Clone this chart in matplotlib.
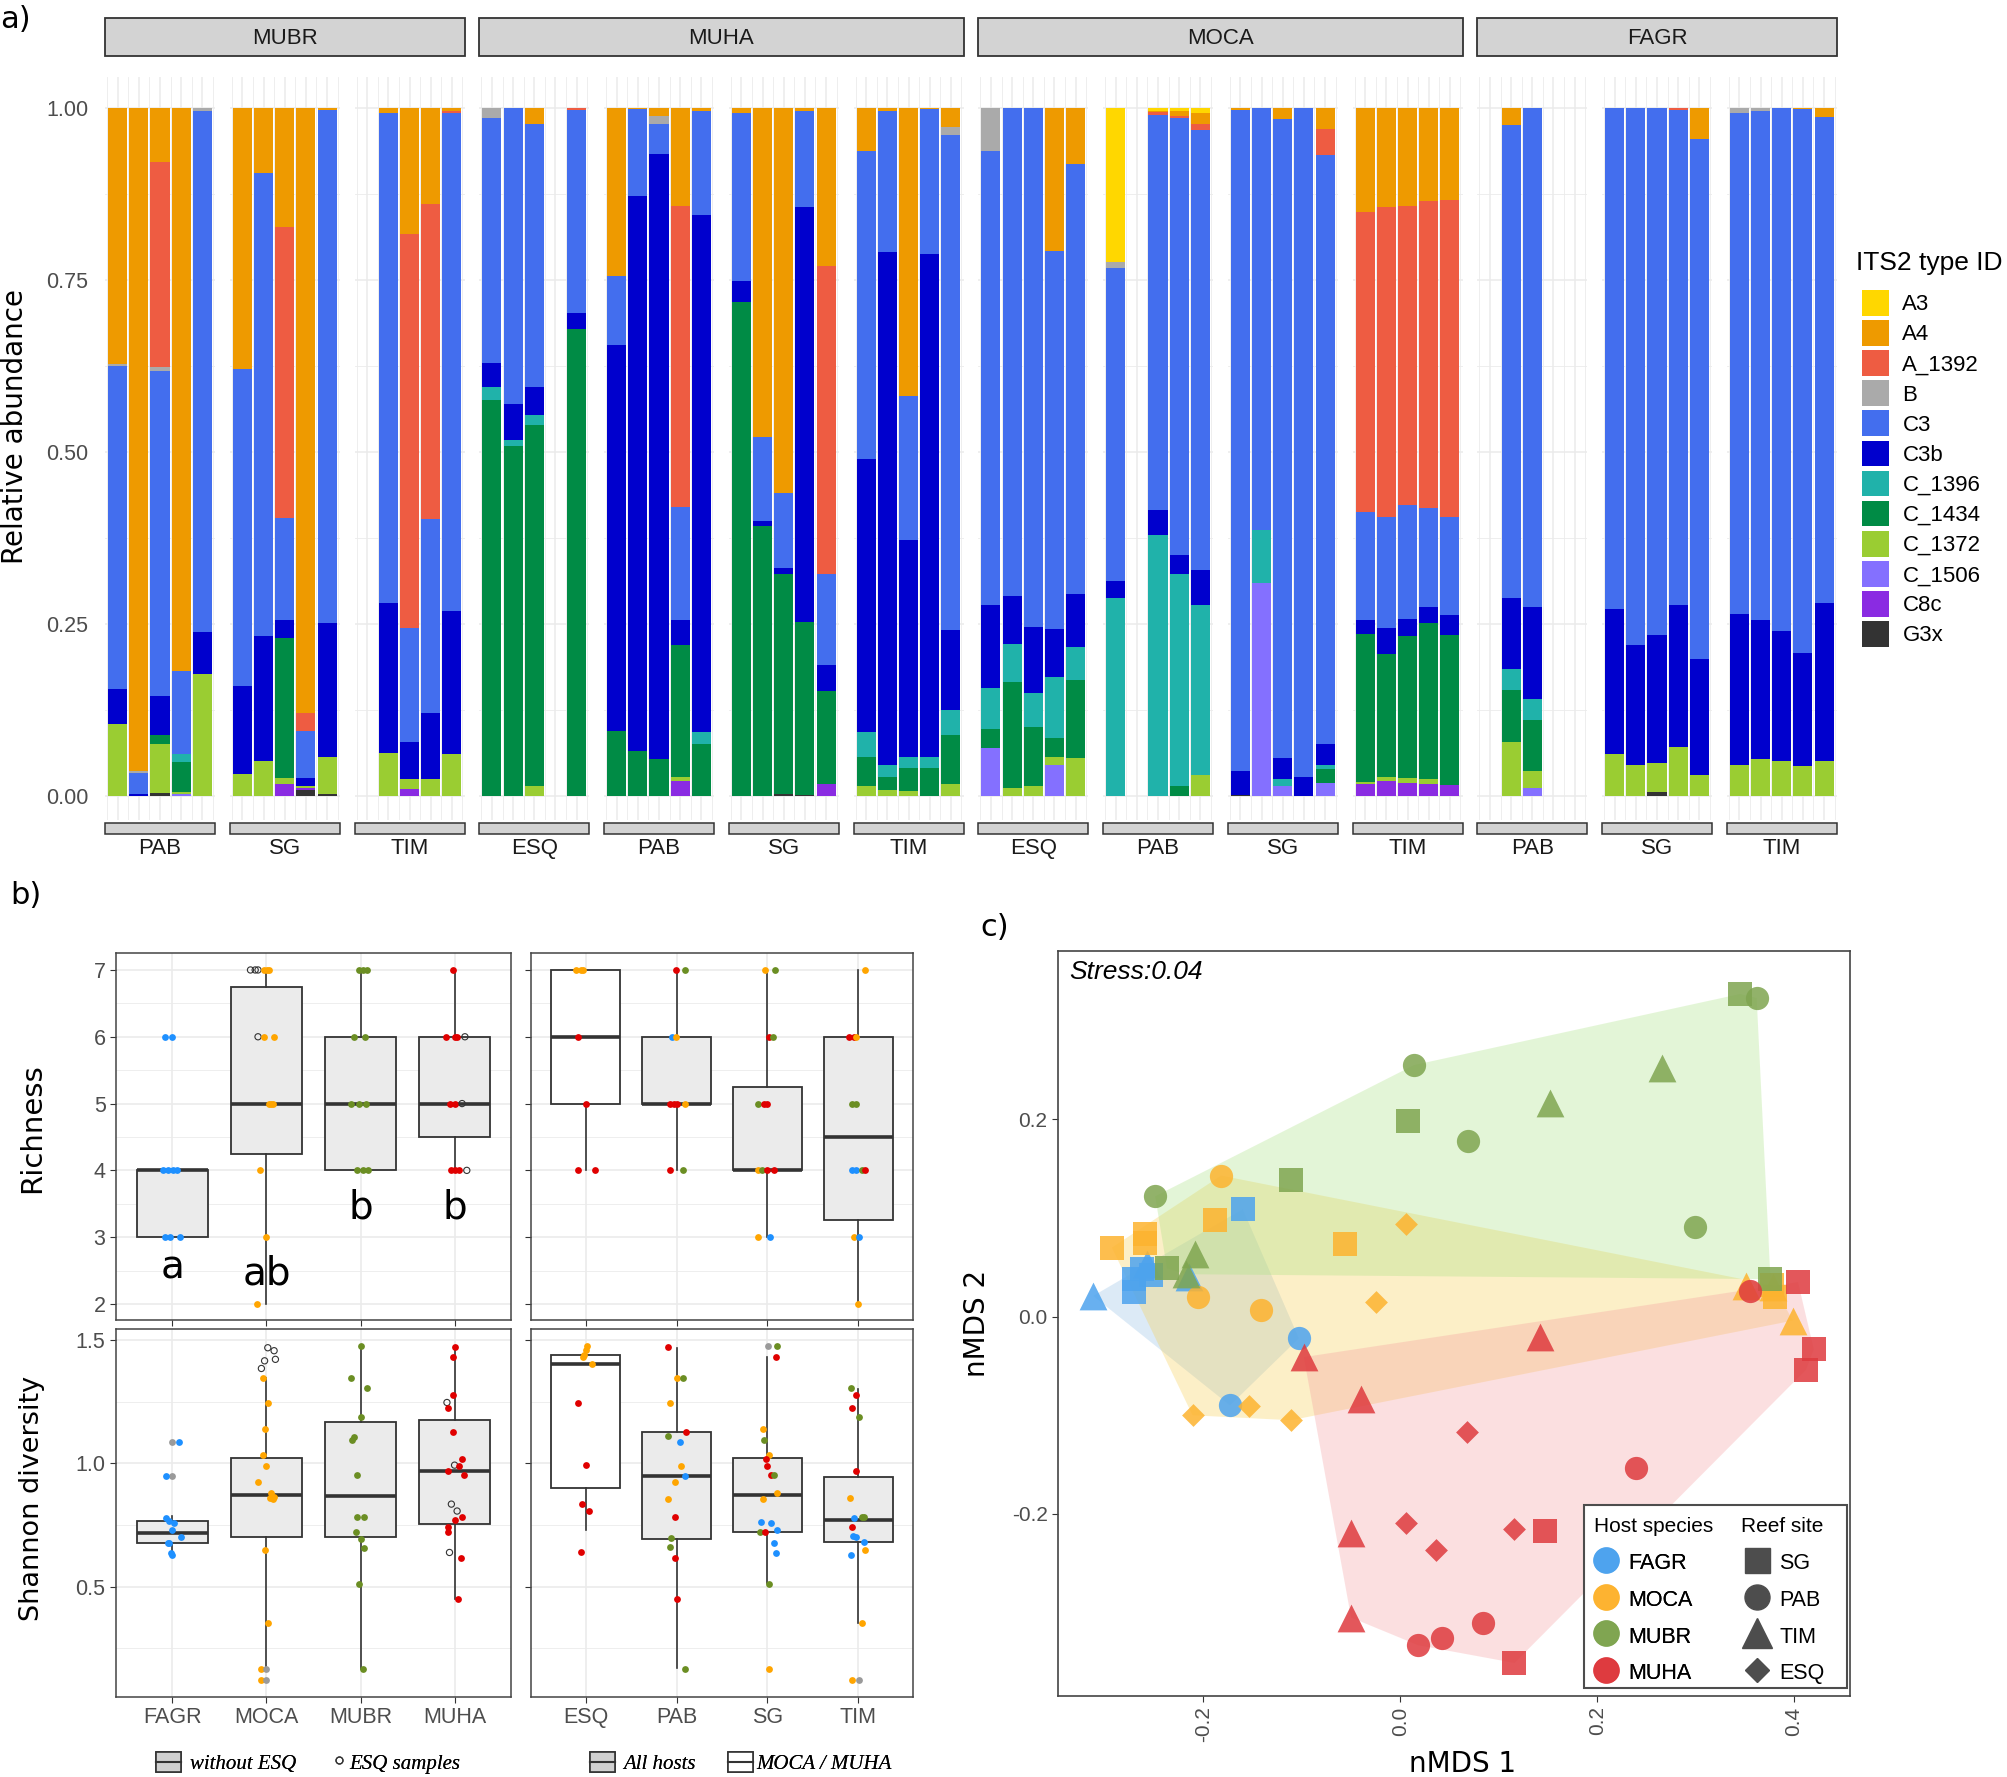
"""Symbiodiniaceae ITS2 profiles, diversity boxplots and nMDS ordination."""

import matplotlib

matplotlib.use("Agg")
import matplotlib.pyplot as plt
import numpy as np
from matplotlib.legend_handler import HandlerBase
from matplotlib.lines import Line2D
from matplotlib.patches import Patch, Rectangle

plt.rcParams["font.family"] = ["Liberation Sans", "DejaVu Sans"]

W, H = 2007, 1777  # размер рисунка в пикселях

# ---------------------------------------------------------------- a) data
its2_types = ["A3", "A4", "A_1392", "B", "C3", "C3b", "C_1396", "C_1434",
              "C_1372", "C_1506", "C8c", "G3x"]
its2_colors = ["#FFD700", "#EE9A00", "#EE5C42", "#AAAAAA", "#436EEE", "#0000CD",
               "#20B2AA", "#008B45", "#9ACD32", "#8470FF", "#8A2BE2", "#333333"]

hosts_a = ["MUBR", "MUHA", "MOCA", "FAGR"]
sites_a = [["PAB", "SG", "TIM"], ["ESQ", "PAB", "SG", "TIM"],
           ["ESQ", "PAB", "SG", "TIM"], ["PAB", "SG", "TIM"]]

# five replicate slots per reef site, None = missing sample
mubr_pab = [
    {"A4": .373, "B": .003, "C3": .47, "C3b": .051, "C_1372": .104},
    {"A4": .964, "B": .003, "C3": .03, "C3b": .003},
    {"A4": .079, "A_1392": .298, "B": .005, "C3": .473, "C3b": .057, "C_1434": .013, "C_1372": .071, "G3x": .004},
    {"A4": .819, "C3": .12, "C_1396": .012, "C_1434": .044, "C_1372": .002, "C_1506": .003},
    {"B": .004, "C3": .758, "C3b": .062, "C_1372": .177},
]
mubr_sg = [
    {"A4": .38, "C3": .46, "C3b": .128, "C_1372": .032},
    {"A4": .095, "C3": .672, "C3b": .182, "C_1372": .051},
    {"A4": .173, "A_1392": .423, "C3": .149, "C3b": .026, "C_1434": .203, "C_1372": .008, "C8c": .018},
    {"A4": .88, "A_1392": .026, "C3": .068, "C3b": .012, "C_1372": .003, "C8c": .003, "G3x": .008},
    {"A4": .003, "C3": .745, "C3b": .196, "C_1372": .053, "G3x": .003},
]
mubr_tim = [
    None,
    {"A4": .007, "C3": .712, "C3b": .219, "C_1372": .062},
    {"A4": .183, "A_1392": .573, "C3": .166, "C3b": .054, "C_1372": .014, "C8c": .010},
    {"A4": .14, "A_1392": .457, "C3": .283, "C3b": .096, "C_1372": .024},
    {"A4": .005, "A_1392": .002, "C3": .724, "C3b": .208, "C_1372": .061},
]
muha_esq = [
    {"B": .014, "C3": .357, "C3b": .035, "C_1396": .019, "C_1434": .575},
    {"C3": .431, "C3b": .052, "C_1396": .009, "C_1434": .508},
    {"A4": .023, "C3": .383, "C3b": .040, "C_1396": .015, "C_1434": .524, "C_1372": .015},
    None,
    {"A_1392": .003, "C3": .295, "C3b": .023, "C_1434": .679},
]
muha_pab = [
    {"A4": .244, "C3": .100, "C3b": .562, "C_1434": .094},
    {"A4": .002, "C3": .126, "C3b": .807, "C_1434": .065},
    {"A4": .012, "B": .011, "C3": .044, "C3b": .880, "C_1434": .053},
    {"A4": .142, "A_1392": .438, "C3": .165, "C3b": .036, "C_1434": .192, "C_1372": .006, "C8c": .021},
    {"A4": .005, "C3": .151, "C3b": .751, "C_1396": .017, "C_1434": .076},
]
muha_sg = [
    {"A4": .008, "C3": .244, "C3b": .030, "C_1434": .718},
    {"A4": .478, "C3": .122, "C3b": .008, "C_1434": .392},
    {"A4": .560, "C3": .108, "C3b": .009, "C_1434": .320, "G3x": .003},
    {"A4": .004, "C3": .140, "C3b": .603, "C_1434": .251, "G3x": .002},
    {"A4": .229, "A_1392": .448, "C3": .133, "C3b": .037, "C_1434": .136, "C8c": .017},
]
muha_tim = [
    {"A4": .062, "C3": .448, "C3b": .397, "C_1396": .037, "C_1434": .041, "C_1372": .015},
    {"A4": .004, "C3": .205, "C3b": .746, "C_1396": .017, "C_1434": .020, "C_1372": .008},
    {"A4": .418, "C3": .210, "C3b": .316, "C_1396": .016, "C_1434": .033, "C_1372": .007},
    {"A4": .002, "C3": .210, "C3b": .731, "C_1396": .017, "C_1434": .040},
    {"A4": .028, "B": .011, "C3": .720, "C3b": .116, "C_1396": .037, "C_1434": .071, "C_1372": .017},
]
moca_esq = [
    {"B": .063, "C3": .660, "C3b": .120, "C_1396": .060, "C_1434": .028, "C_1506": .069},
    {"C3": .710, "C3b": .069, "C_1396": .056, "C_1434": .154, "C_1372": .011},
    {"C3": .754, "C3b": .097, "C_1396": .049, "C_1434": .086, "C_1372": .014},
    {"A4": .208, "C3": .550, "C3b": .069, "C_1396": .089, "C_1434": .028, "C_1372": .011, "C_1506": .045},
    {"A4": .082, "C3": .625, "C3b": .076, "C_1396": .049, "C_1434": .113, "C_1372": .055},
]
moca_pab = [
    {"A3": .224, "B": .009, "C3": .455, "C3b": .024, "C_1396": .288},
    None,
    {"A3": .004, "A4": .002, "A_1392": .004, "C3": .575, "C3b": .036, "C_1396": .379},
    {"A3": .004, "A4": .007, "A_1392": .004, "C3": .635, "C3b": .027, "C_1396": .309, "C_1434": .014},
    {"A3": .008, "A4": .016, "A_1392": .008, "C3": .640, "C3b": .051, "C_1396": .247, "C_1372": .030},
]
moca_sg = [
    {"A4": .003, "C3": .961, "C3b": .034, "G3x": .002},
    {"C3": .614, "C_1396": .077, "C_1506": .309},
    {"A4": .016, "C3": .929, "C3b": .031, "C_1396": .009, "C_1506": .015},
    {"C3": .973, "C3b": .027},
    {"A4": .030, "A_1392": .039, "C3": .856, "C3b": .030, "C_1396": .006, "C_1434": .020, "C_1506": .019},
]
moca_tim = [
    {"A4": .151, "A_1392": .436, "C3": .158, "C3b": .019, "C_1434": .216, "C_1372": .003, "C8c": .017},
    {"A4": .144, "A_1392": .451, "C3": .161, "C3b": .038, "C_1434": .178, "C_1372": .006, "C8c": .022},
    {"A4": .142, "A_1392": .435, "C3": .166, "C3b": .025, "C_1434": .206, "C_1372": .007, "C8c": .019},
    {"A4": .135, "A_1392": .447, "C3": .143, "C3b": .023, "C_1434": .228, "C_1372": .007, "C8c": .017},
    {"A4": .134, "A_1392": .460, "C3": .143, "C3b": .029, "C_1434": .218, "C8c": .016},
]
fagr_pab = [
    None,
    {"A4": .025, "C3": .687, "C3b": .103, "C_1396": .031, "C_1434": .076, "C_1372": .078},
    {"C3": .726, "C3b": .133, "C_1396": .031, "C_1434": .074, "C_1372": .025, "C_1506": .011},
    None,
    None,
]
fagr_sg = [
    {"C3": .728, "C3b": .211, "C_1372": .061},
    {"C3": .781, "C3b": .174, "C_1372": .045},
    {"C3": .766, "C3b": .186, "C_1372": .043, "G3x": .005},
    {"A_1392": .003, "C3": .720, "C3b": .206, "C_1372": .071},
    {"A4": .045, "C3": .756, "C3b": .168, "C_1372": .031},
]
fagr_tim = [
    {"B": .008, "C3": .727, "C3b": .220, "C_1372": .045},
    {"B": .005, "C3": .740, "C3b": .202, "C_1372": .053},
    {"C3": .761, "C3b": .188, "C_1372": .051},
    {"A4": .002, "C3": .790, "C3b": .164, "C_1372": .044},
    {"A4": .013, "C3": .706, "C3b": .230, "C_1372": .051},
]
abund_panels = [mubr_pab, mubr_sg, mubr_tim, muha_esq, muha_pab, muha_sg, muha_tim,
                moca_esq, moca_pab, moca_sg, moca_tim, fagr_pab, fagr_sg, fagr_tim]

# ---------------------------------------------------------------- b) data
host_names = ["FAGR", "MOCA", "MUBR", "MUHA"]
site_names = ["ESQ", "PAB", "SG", "TIM"]
pt_colors = {"F": "#1E90FF", "M": "#FFA500", "B": "#6B8E23", "H": "#E00000", "G": "#9A9A9A"}

# box statistics: whisker low, Q1, median, Q3, whisker high
rich_host_box = [[3, 3, 4, 4, 4], [2, 4.25, 5, 6.75, 7], [4, 4, 5, 6, 7], [4, 4.5, 5, 6, 7]]
rich_site_box = [[4, 5, 6, 7, 7], [4, 5, 5, 6, 7], [3, 4, 4, 5.25, 7], [2, 3.25, 4.5, 6, 7]]
shan_host_box = [[0.628, 0.677, 0.718, 0.766, 0.787], [0.162, 0.703, 0.872, 1.020, 1.345],
                 [0.166, 0.701, 0.869, 1.169, 1.476], [0.450, 0.754, 0.970, 1.176, 1.470]]
shan_site_box = [[0.730, 0.900, 1.403, 1.439, 1.470], [0.169, 0.695, 0.949, 1.126, 1.466],
                 [0.514, 0.720, 0.870, 1.020, 1.432], [0.351, 0.682, 0.770, 0.943, 1.300]]
site_box_fill = ["white", "#EBEBEB", "#EBEBEB", "#EBEBEB"]
group_letters = ["a", "ab", "b", "b"]
letter_y = [2.54, 2.46, 3.44, 3.45]

# points: (category, jitter, value, colour key; "o" = ESQ sample)
rich_host_pts = [
    (0, -.08, 6, "F"), (0, 0, 6, "F"), (0, -.10, 4, "F"), (0, -.05, 4, "F"), (0, .01, 4, "F"),
    (0, .05, 4, "F"), (0, -.08, 3, "F"), (0, -.03, 3, "F"), (0, .08, 3, "F"),
    (1, -.17, 7, "o"), (1, -.12, 7, "o"), (1, -.09, 7, "o"), (1, -.03, 7, "M"), (1, .01, 7, "M"),
    (1, .03, 7, "M"), (1, -.09, 6, "o"), (1, -.03, 6, "M"), (1, .08, 6, "M"), (1, .03, 5, "M"),
    (1, .05, 5, "M"), (1, .07, 5, "M"), (1, -.07, 4, "M"), (1, 0, 3, "M"), (1, -.10, 2, "M"),
    (2, -.02, 7, "B"), (2, .03, 7, "B"), (2, .07, 7, "B"), (2, -.07, 6, "B"), (2, .05, 6, "B"),
    (2, -.10, 5, "B"), (2, -.02, 5, "B"), (2, .06, 5, "B"), (2, -.04, 4, "B"), (2, .03, 4, "B"),
    (2, .08, 4, "B"),
    (3, -.02, 7, "H"), (3, -.09, 6, "H"), (3, 0, 6, "H"), (3, .03, 6, "H"), (3, .11, 6, "o"),
    (3, -.05, 5, "H"), (3, 0, 5, "H"), (3, .08, 5, "o"), (3, -.04, 4, "H"), (3, 0, 4, "H"),
    (3, .05, 4, "H"), (3, .13, 4, "o"),
]
rich_site_pts = [
    (0, -.10, 7, "M"), (0, -.05, 7, "M"), (0, -.03, 7, "M"), (0, -.08, 6, "H"), (0, 0, 5, "H"),
    (0, -.08, 4, "H"), (0, .10, 4, "H"),
    (1, -.01, 7, "H"), (1, .09, 7, "B"), (1, -.05, 6, "F"), (1, -.01, 6, "M"), (1, -.07, 5, "H"),
    (1, -.03, 5, "H"), (1, .01, 5, "H"), (1, .09, 5, "M"), (1, -.07, 4, "H"), (1, .07, 4, "B"),
    (2, -.03, 7, "M"), (2, .08, 7, "B"), (2, .02, 6, "H"), (2, .06, 6, "B"), (2, -.10, 5, "B"),
    (2, -.04, 5, "H"), (2, 0, 5, "H"), (2, -.10, 4, "M"), (2, -.06, 4, "B"), (2, -.01, 4, "H"),
    (2, .07, 4, "H"), (2, -.10, 3, "M"), (2, .03, 3, "F"),
    (3, .07, 7, "M"), (3, -.10, 6, "H"), (3, -.05, 6, "H"), (3, -.03, 6, "M"), (3, -.07, 5, "B"),
    (3, -.03, 5, "B"), (3, -.07, 4, "F"), (3, -.03, 4, "F"), (3, .04, 4, "B"), (3, .07, 4, "H"),
    (3, -.05, 3, "M"), (3, .01, 3, "F"), (3, 0, 2, "M"),
]
shan_host_pts = [
    (0, 0, 1.085, "G"), (0, .074, 1.085, "F"), (0, 0, .949, "G"), (0, -.068, .949, "F"),
    (0, -.068, .777, "F"), (0, -.034, .768, "F"), (0, .014, .760, "F"), (0, 0, .730, "F"),
    (0, .088, .703, "F"), (0, -.034, .678, "F"), (0, -.047, .676, "F"), (0, -.014, .638, "F"),
    (0, 0, .628, "F"),
    (1, -.054, 1.385, "o"), (1, -.02, 1.416, "o"), (1, .014, 1.469, "o"), (1, .081, 1.457, "o"),
    (1, .095, 1.422, "o"), (1, -.034, 1.345, "M"), (1, .014, 1.247, "M"), (1, -.014, 1.139, "M"),
    (1, -.034, 1.034, "M"), (1, -.007, .989, "M"), (1, -.088, .926, "M"), (1, .047, .882, "M"),
    (1, .034, .858, "M"), (1, .068, .855, "M"), (1, .081, .862, "M"), (1, -.02, .651, "M"),
    (1, .014, .351, "M"), (1, -.054, .165, "M"), (1, 0, .165, "G"), (1, -.054, .122, "M"),
    (1, 0, .122, "G"),
    (2, 0, 1.476, "B"), (2, -.101, 1.345, "B"), (2, .074, 1.304, "B"), (2, 0, 1.189, "B"),
    (2, -.068, 1.108, "B"), (2, -.088, 1.095, "B"), (2, -.034, .953, "B"), (2, -.041, .784, "B"),
    (2, .041, .784, "B"), (2, -.047, .720, "B"), (2, 0, .693, "B"), (2, .041, .659, "B"),
    (2, -.02, .511, "B"), (2, .027, .165, "B"),
    (3, 0, 1.470, "H"), (3, -.02, 1.432, "H"), (3, -.014, 1.277, "H"), (3, -.081, 1.247, "o"),
    (3, -.074, 1.223, "H"), (3, -.02, 1.126, "H"), (3, .081, 1.016, "H"), (3, 0, .993, "o"),
    (3, .047, .990, "H"), (3, -.074, .970, "H"), (3, .101, .955, "H"), (3, -.034, .835, "o"),
    (3, .027, .807, "o"), (3, .074, .784, "H"), (3, 0, .770, "H"), (3, -.074, .743, "H"),
    (3, -.068, .720, "H"), (3, -.054, .639, "o"), (3, .068, .615, "H"), (3, .034, .450, "H"),
]
shan_site_pts = [
    (0, .021, 1.477, "M"), (0, .007, 1.459, "M"), (0, -.014, 1.439, "M"), (0, -.028, 1.430, "M"),
    (0, .07, 1.403, "M"), (0, -.084, 1.247, "H"), (0, 0, .993, "H"), (0, -.035, .835, "H"),
    (0, .035, .807, "H"), (0, -.049, .642, "H"),
    (1, -.091, 1.470, "H"), (1, 0, 1.345, "M"), (1, .07, 1.345, "B"), (1, -.07, 1.247, "M"),
    (1, .105, 1.126, "H"), (1, -.091, 1.111, "B"), (1, .035, 1.085, "F"), (1, .049, .989, "M"),
    (1, .091, .949, "F"), (1, -.014, .926, "M"), (1, -.091, .855, "M"), (1, -.021, .784, "H"),
    (1, -.056, .696, "B"), (1, -.07, .662, "B"), (1, -.014, .615, "H"), (1, 0, .450, "H"),
    (1, .091, .166, "B"),
    (2, .007, 1.476, "G"), (2, .105, 1.476, "B"), (2, .091, 1.432, "H"), (2, -.049, 1.139, "M"),
    (2, -.035, 1.095, "B"), (2, .021, 1.034, "M"), (2, -.014, 1.016, "H"), (2, 0, .989, "H"),
    (2, .035, .955, "H"), (2, .077, .955, "B"), (2, .105, .882, "M"), (2, -.049, .855, "M"),
    (2, -.07, .764, "F"), (2, .042, .757, "F"), (2, -.084, .720, "B"), (2, -.028, .720, "H"),
    (2, .105, .730, "F"), (2, .077, .678, "F"), (2, .091, .638, "F"), (2, .021, .511, "B"),
    (2, .021, .165, "M"),
    (3, -.084, 1.304, "B"), (3, -.028, 1.277, "H"), (3, -.07, 1.223, "H"), (3, .007, 1.189, "B"),
    (3, -.028, .970, "H"), (3, -.098, .861, "M"), (3, .035, .784, "B"), (3, .056, .784, "B"),
    (3, -.049, .777, "F"), (3, -.07, .743, "H"), (3, -.063, .705, "F"), (3, -.028, .700, "F"),
    (3, .056, .680, "F"), (3, .07, .651, "M"), (3, -.084, .628, "F"), (3, .035, .351, "M"),
    (3, -.07, .122, "M"), (3, .007, .122, "G"),
]

# ---------------------------------------------------------------- c) data
nmds_hosts = ["FAGR", "MOCA", "MUBR", "MUHA"]
nmds_point_colors = ["#4DA3EE", "#FDB32F", "#7FA550", "#DE3A3E"]
nmds_hull_colors = ["#8EBCE4", "#F8CD48", "#A5E17D", "#F5989B"]
reef_sites = ["SG", "PAB", "TIM", "ESQ"]
site_markers = {"SG": "s", "PAB": "o", "TIM": "^", "ESQ": "D"}
site_sizes = {"SG": 290, "PAB": 280, "TIM": 400, "ESQ": 135}

# (nMDS1, nMDS2, reef site)
fagr_nmds = [(-.312, .021, "TIM"), (-.271, .038, "SG"), (-.262, .048, "SG"), (-.271, .025, "SG"),
             (-.253, .042, "SG"), (-.257, .053, "TIM"), (-.215, .040, "TIM"), (-.160, .109, "SG"),
             (-.103, -.022, "PAB"), (-.173, -.090, "PAB")]
moca_nmds = [(-.182, .143, "PAB"), (-.188, .098, "SG"), (-.293, .070, "SG"), (-.259, .084, "SG"),
             (-.259, .075, "SG"), (.0055, .094, "ESQ"), (-.056, .074, "SG"), (-.205, .020, "PAB"),
             (-.142, .007, "PAB"), (-.025, .0145, "ESQ"), (.351, .031, "TIM"), (.378, .032, "SG"),
             (.381, .020, "SG"), (.379, .030, "TIM"), (.399, -.004, "TIM"), (-.211, -.100, "ESQ"),
             (-.154, -.091, "ESQ"), (-.111, -.105, "ESQ")]
mubr_nmds = [(.345, .327, "SG"), (.362, .323, "PAB"), (.014, .255, "PAB"), (.266, .252, "TIM"),
             (.152, .217, "TIM"), (.008, .198, "SG"), (.069, .178, "PAB"), (-.111, .139, "SG"),
             (-.249, .122, "PAB"), (-.209, .063, "TIM"), (.299, .091, "PAB"), (.376, .038, "SG"),
             (-.218, .043, "TIM"), (-.237, .049, "SG")]
muha_nmds = [(.404, .035, "SG"), (.355, .026, "PAB"), (.142, -.021, "TIM"), (-.098, -.041, "TIM"),
             (-.040, -.083, "TIM"), (.420, -.033, "SG"), (.412, -.054, "SG"), (.068, -.117, "ESQ"),
             (.239, -.153, "PAB"), (-.050, -.219, "TIM"), (.0055, -.2095, "ESQ"),
             (.036, -.237, "ESQ"), (.116, -.2155, "ESQ"), (.147, -.217, "SG"),
             (-.050, -.305, "TIM"), (.018, -.333, "PAB"), (.042, -.326, "PAB"),
             (.084, -.311, "PAB"), (.116, -.351, "SG")]
nmds_points = [fagr_nmds, moca_nmds, mubr_nmds, muha_nmds]

DARK = "#333333"
TICK = "#4D4D4D"
GRID = "#EBEBEB"

fig = plt.figure(figsize=(W / 100, H / 100), dpi=100)


def add_ax(x, y, w, h):
    """Оси по пиксельным координатам (от левого верхнего угла)."""
    return fig.add_axes([x / W, 1 - (y + h) / H, w / W, h / H])


def fig_rect(x, y, w, h, **kw):
    fig.add_artist(Rectangle((x / W, 1 - (y + h) / H), w / W, h / H,
                             transform=fig.transFigure, **kw))


def fig_text(x, y, s, **kw):
    fig.text(x / W, 1 - y / H, s, **kw)


# ================================================================ panel a
PITCH, SUB_W, A_TOP, A_H = 124.75, 110, 77, 743
slots = np.arange(1, 6)
for k, panel in enumerate(abund_panels):
    x0 = 105 + k * PITCH
    ax = add_ax(x0, A_TOP, SUB_W, A_H)
    bottom = np.zeros(5)
    # ggplot кладёт первый уровень сверху, поэтому рисуем с конца
    for t, col in zip(reversed(its2_types), reversed(its2_colors)):
        vals = []
        for bar in panel:
            if bar is None:
                vals.append(0.0)
            else:
                vals.append(bar.get(t, 0.0) / sum(bar.values()))
        vals = np.array(vals)
        ax.bar(slots, vals, width=0.9, bottom=bottom, color=col, lw=0, zorder=2)
        bottom += vals
    ax.set_xlim(0.4, 5.6)
    ax.set_ylim(-0.035, 1.045)
    ax.set_xticks(slots)
    ax.set_xticks(np.arange(0.5, 6.0, 1.0), minor=True)
    ax.set_yticks([0, 0.25, 0.5, 0.75, 1.0])
    ax.set_yticks([0.125, 0.375, 0.625, 0.875], minor=True)
    ax.grid(which="major", color=GRID, lw=1.1, zorder=0)
    ax.grid(which="minor", color=GRID, lw=0.6, zorder=0)
    ax.set_axisbelow(True)
    for sp in ax.spines.values():
        sp.set_visible(False)
    ax.tick_params(which="both", length=0, labelbottom=False)
    if k == 0:
        ax.set_yticklabels(["0.00", "0.25", "0.50", "0.75", "1.00"])
        ax.tick_params(axis="y", labelsize=15.5, labelcolor=TICK, pad=12)
    else:
        ax.tick_params(axis="y", labelleft=False)

# site strips below and host strips on top
k = 0
for host, sites in zip(hosts_a, sites_a):
    hx0 = 105 + k * PITCH
    hx1 = 105 + (k + len(sites) - 1) * PITCH + SUB_W
    fig_rect(hx0, 18, hx1 - hx0, 38, facecolor="#D3D3D3", edgecolor=DARK, lw=1.3)
    fig_text((hx0 + hx1) / 2, 38, host, ha="center", va="center", fontsize=16, color="#1A1A1A")
    for s in sites:
        sx = 105 + k * PITCH
        fig_rect(sx, 823, SUB_W, 11, facecolor="#D3D3D3", edgecolor=DARK, lw=1.1)
        fig_text(sx + SUB_W / 2, 848, s, ha="center", va="center", fontsize=16, color="#1A1A1A")
        k += 1

fig_text(15, 426, "Relative abundance", rotation=90, ha="center", va="center",
         fontsize=20, family="DejaVu Sans")
fig_text(0, 20, "a)", ha="left", va="center", fontsize=22, family="DejaVu Sans")

fig_text(1856, 263, "ITS2 type ID", ha="left", va="center", fontsize=19)
its2_handles = [Patch(facecolor=c, edgecolor="none") for c in its2_colors]
fig.legend(its2_handles, its2_types, loc="upper left", bbox_to_anchor=(1862 / W, 1 - 290 / H),
           frameon=False, fontsize=16, handlelength=1.22, handleheight=1.4,
           labelspacing=0.2, handletextpad=0.6, borderaxespad=0, borderpad=0)

# ================================================================ panel b


class BoxKey(HandlerBase):
    """Значок легенды в виде ящика с медианой."""

    def create_artists(self, legend, orig_handle, xdescent, ydescent, width, height,
                       fontsize, trans):
        r = Rectangle((-xdescent, -ydescent), width, height, transform=trans,
                      facecolor=orig_handle.get_facecolor(), edgecolor=DARK, lw=1.2)
        ln = Line2D([-xdescent, -xdescent + width], [-ydescent + height / 2] * 2,
                    color=DARK, lw=1.5, transform=trans)
        return [r, ln]


def draw_box_panel(ax, stats, pts, names, fills, ylim, yticks, yminor, show_y, show_x):
    bxp_stats = []
    for s in stats:
        bxp_stats.append({"whislo": s[0], "q1": s[1], "med": s[2], "q3": s[3],
                          "whishi": s[4], "fliers": []})
    pos = np.arange(1, len(stats) + 1)
    parts = ax.bxp(bxp_stats, positions=pos, widths=0.75, patch_artist=True,
                   showfliers=False, showcaps=False,
                   boxprops={"edgecolor": DARK, "lw": 1.3},
                   medianprops={"color": DARK, "lw": 2.6},
                   whiskerprops={"color": DARK, "lw": 1.2}, zorder=2)
    for patch, fc in zip(parts["boxes"], fills):
        patch.set_facecolor(fc)
    for cat, dx, val, key in pts:
        if key == "o":
            ax.scatter(cat + 1 + dx, val, s=20, facecolors="none", edgecolors=DARK,
                       lw=0.8, zorder=3)
        else:
            ax.scatter(cat + 1 + dx, val, s=24, color=pt_colors[key], lw=0, zorder=3)
    ax.set_xlim(0.4, len(stats) + 0.6)
    ax.set_ylim(*ylim)
    ax.set_xticks(pos)
    ax.set_xticklabels(names if show_x else [])
    ax.set_yticks(yticks)
    ax.set_yticks(yminor, minor=True)
    if not show_y:
        ax.set_yticklabels([])
    ax.grid(which="major", color=GRID, lw=1.2, zorder=0)
    ax.grid(which="minor", axis="y", color=GRID, lw=0.6, zorder=0)
    ax.set_axisbelow(True)
    for sp in ax.spines.values():
        sp.set_color("#444444")
        sp.set_linewidth(1.1)
    ax.tick_params(which="major", length=4, color=DARK, labelsize=15.5, labelcolor=TICK)
    ax.tick_params(which="minor", length=0)


rich_ylim, shan_ylim = (1.76, 7.254), (0.053, 1.545)
rich_ticks = [2, 3, 4, 5, 6, 7]
rich_minor = [2.5, 3.5, 4.5, 5.5, 6.5]
shan_ticks = [0.5, 1.0, 1.5]
shan_minor = [0.25, 0.75, 1.25]

ax_rh = add_ax(116, 953, 395, 367)
draw_box_panel(ax_rh, rich_host_box, rich_host_pts, host_names, ["#EBEBEB"] * 4,
               rich_ylim, rich_ticks, rich_minor, True, False)
ax_rh.set_yticklabels([str(v) for v in rich_ticks])
for i, (lt, ly) in enumerate(zip(group_letters, letter_y)):
    ax_rh.text(i + 1, ly, lt, ha="center", va="center", fontsize=28, family="DejaVu Sans")

ax_rs = add_ax(531, 953, 382, 367)
draw_box_panel(ax_rs, rich_site_box, rich_site_pts, site_names, site_box_fill,
               rich_ylim, rich_ticks, rich_minor, False, False)

ax_sh = add_ax(116, 1329, 395, 368)
draw_box_panel(ax_sh, shan_host_box, shan_host_pts, host_names, ["#EBEBEB"] * 4,
               shan_ylim, shan_ticks, shan_minor, True, True)
ax_sh.set_yticklabels(["0.5", "1.0", "1.5"])

ax_ss = add_ax(531, 1329, 382, 368)
draw_box_panel(ax_ss, shan_site_box, shan_site_pts, site_names, site_box_fill,
               shan_ylim, shan_ticks, shan_minor, False, True)

fig_text(32, 1128, "Richness", rotation=90, ha="center", va="center",
         fontsize=21, family="DejaVu Sans")
fig_text(32, 1498, "Shannon diversity", rotation=90, ha="center", va="center",
         fontsize=19.5, family="DejaVu Sans")
fig_text(10, 896, "b)", ha="left", va="center", fontsize=22, family="DejaVu Sans")

leg_font = {"family": "Liberation Serif", "style": "italic", "size": 15}
box_key = {Patch: BoxKey()}


def small_legend(handle, label, x, **kw):
    lg = fig.legend([handle], [label], handler_map=box_key, loc="center left",
                    bbox_to_anchor=(x / W, 1 - 1763 / H), frameon=False, prop=leg_font,
                    handleheight=1.1, borderpad=0, borderaxespad=0, **kw)
    fig.add_artist(lg)


small_legend(Patch(facecolor="#D0D0D0"), "without ESQ", 156,
             handlelength=1.2, handletextpad=0.45)
small_legend(Line2D([], [], ls="", marker="o", mfc="none", mec=DARK, ms=5, mew=0.9),
             "ESQ samples", 334, handlelength=0.5, handletextpad=0.25)
small_legend(Patch(facecolor="#D0D0D0"), "All hosts", 590,
             handlelength=1.2, handletextpad=0.4)
small_legend(Patch(facecolor="white"), "MOCA / MUHA", 728,
             handlelength=1.2, handletextpad=0.15)

# ================================================================ panel c


def convex_hull(pts):
    """Выпуклая оболочка (монотонная цепочка Эндрю)."""
    pts = sorted(set(pts))

    def cross(o, a, b):
        return (a[0] - o[0]) * (b[1] - o[1]) - (a[1] - o[1]) * (b[0] - o[0])

    lower, upper = [], []
    for p in pts:
        while len(lower) >= 2 and cross(lower[-2], lower[-1], p) <= 0:
            lower.pop()
        lower.append(p)
    for p in reversed(pts):
        while len(upper) >= 2 and cross(upper[-2], upper[-1], p) <= 0:
            upper.pop()
        upper.append(p)
    return lower[:-1] + upper[:-1]


ax_c = add_ax(1058, 951, 792, 745)
for pts, hc in zip(nmds_points, nmds_hull_colors):
    hull = convex_hull([(p[0], p[1]) for p in pts])
    ax_c.fill([h[0] for h in hull], [h[1] for h in hull], color=hc, alpha=0.3, lw=0, zorder=1)
for pts, pc in zip(nmds_points, nmds_point_colors):
    for site in reef_sites:
        sel = [p for p in pts if p[2] == site]
        if not sel:
            continue
        ax_c.scatter([p[0] for p in sel], [p[1] for p in sel], marker=site_markers[site],
                     s=site_sizes[site], color=pc, alpha=0.85, lw=0, zorder=3)
ax_c.set_xlim(-0.3477, 0.4568)
ax_c.set_ylim(-0.3845, 0.3706)
ax_c.set_xticks([-0.2, 0.0, 0.2, 0.4])
ax_c.set_xticklabels(["-0.2", "0.0", "0.2", "0.4"], rotation=90)
ax_c.set_yticks([-0.2, 0.0, 0.2])
ax_c.set_yticklabels(["-0.2", "0.0", "0.2"])
ax_c.tick_params(length=4, color=DARK, labelsize=15, labelcolor=TICK)
for sp in ax_c.spines.values():
    sp.set_color("#444444")
    sp.set_linewidth(1.2)
ax_c.text(0.014, 0.972, "Stress:0.04", transform=ax_c.transAxes, ha="left", va="center",
          fontsize=19, style="italic")
fig_text(1463, 1764, "nMDS 1", ha="center", va="center", fontsize=20, family="DejaVu Sans")
fig_text(977, 1323, "nMDS 2", rotation=90, ha="center", va="center",
         fontsize=20, family="DejaVu Sans")
fig_text(980, 928, "c)", ha="left", va="center", fontsize=22, family="DejaVu Sans")

# legend: frame + two columns with their own titles
fig_rect(1584, 1505, 263, 183, facecolor="white", edgecolor="#4D4D4D", lw=1.5, zorder=4)
fig_text(1594, 1527, "Host species", ha="left", va="center", fontsize=15, zorder=6)
fig_text(1741, 1527, "Reef site", ha="left", va="center", fontsize=15, zorder=6)
host_handles = [Line2D([], [], ls="", marker="o", ms=18, mfc=c, mec=c, alpha=0.9)
                for c in nmds_point_colors]
site_handles = [Line2D([], [], ls="", marker=site_markers[s], color=TICK,
                       ms={"SG": 18, "PAB": 18, "TIM": 21, "ESQ": 12}[s]) for s in reef_sites]
leg_c1 = fig.legend(host_handles, nmds_hosts, loc="upper left",
                    bbox_to_anchor=(1593 / W, 1 - 1551 / H), frameon=False, fontsize=15.5,
                    handlelength=1.2, handleheight=1.2, labelspacing=0.62,
                    handletextpad=0.45, borderpad=0, borderaxespad=0)
leg_c1.set_zorder(5)
fig.add_artist(leg_c1)
leg_c2 = fig.legend(site_handles, reef_sites, loc="upper left",
                    bbox_to_anchor=(1744 / W, 1 - 1551 / H), frameon=False, fontsize=15.5,
                    handlelength=1.2, handleheight=1.2, labelspacing=0.62,
                    handletextpad=0.45, borderpad=0, borderaxespad=0)
leg_c2.set_zorder(5)

fig.savefig("out.png", dpi=100)
